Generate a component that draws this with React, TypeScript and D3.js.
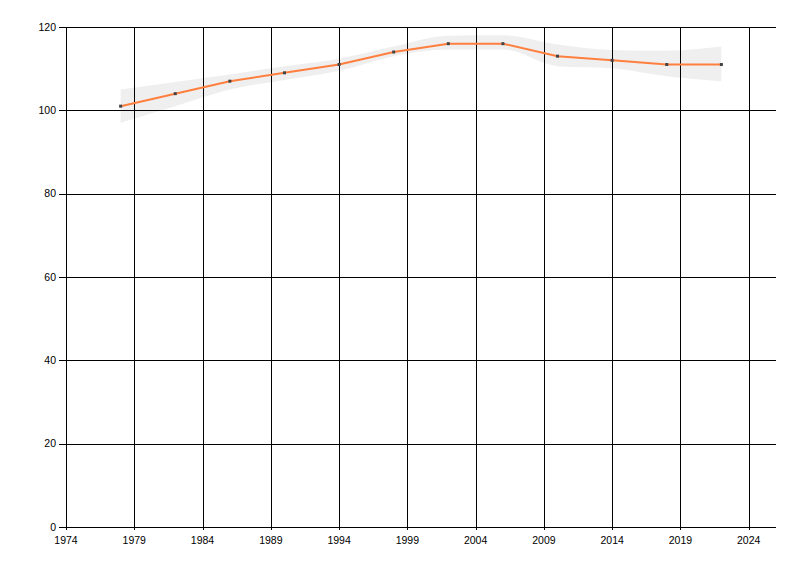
import React, { useEffect } from "react";
import * as d3 from "d3";

const years = [1978, 1982, 1986, 1990, 1994, 1998, 2002, 2006, 2010, 2014, 2018, 2022];
const values = [101, 104, 107, 109, 111, 114, 116, 116, 113, 112, 111, 111];
const bandHigh = [105, 106.8, 108.6, 110.6, 112.4, 115.3, 117.9, 118, 115.8, 114.5, 114.3, 115.3];
const bandLow = [97, 101, 105, 107.3, 109.5, 113, 114.6, 114.6, 110.6, 110.1, 108.2, 107];
const xTicks = [1974, 1979, 1984, 1989, 1994, 1999, 2004, 2009, 2014, 2019, 2024];
const yTicks = [0, 20, 40, 60, 80, 100, 120];

const W = 800;
const H = 576;
const left = 66;
const right = 776;
const top = 27;
const bottom = 527;

export default function App() {
  useEffect(() => {
    document.body.style.margin = "0";
  }, []);
  const x = d3.scaleLinear().domain([1974, 2026]).range([left, right]);
  const y = d3.scaleLinear().domain([0, 120]).range([bottom, top]);

  const idx = years.map((_, i) => i);
  const area = d3
    .area<number>()
    .x((i) => x(years[i]))
    .y0((i) => y(bandLow[i]))
    .y1((i) => y(bandHigh[i]))
    .curve(d3.curveMonotoneX);
  const line = d3
    .line<number>()
    .x((i) => x(years[i]))
    .y((i) => y(values[i]));

  const font = "'Liberation Sans', Arial, sans-serif";
  return (
    <svg width={W} height={H} style={{ display: "block", background: "#fff" }}>
      <path d={area(idx) || ""} fill="#efefef" />
      {yTicks.map((t) => (
        <g key={"y" + t}>
          <line x1={left - 7} x2={right} y1={Math.round(y(t)) + 0.5} y2={Math.round(y(t)) + 0.5} stroke="#000" strokeWidth={1} />
          <text x={56} y={y(t)} dy="0.35em" textAnchor="end" fontFamily={font} fontSize={10.5} fill="#000">
            {t}
          </text>
        </g>
      ))}
      {xTicks.map((t) => (
        <g key={"x" + t}>
          <line x1={Math.round(x(t)) + 0.5} x2={Math.round(x(t)) + 0.5} y1={top} y2={bottom + 3} stroke="#000" strokeWidth={1} />
          <text x={x(t)} y={544} textAnchor="middle" fontFamily={font} fontSize={10.5} fill="#000">
            {t}
          </text>
        </g>
      ))}
      <path d={line(idx) || ""} fill="none" stroke="#ff7f3f" strokeWidth={2} />
      {idx.map((i) => (
        <rect key={"p" + i} x={x(years[i]) - 1.5} y={y(values[i]) - 1.5} width={3} height={3} fill="#444" />
      ))}
    </svg>
  );
}
